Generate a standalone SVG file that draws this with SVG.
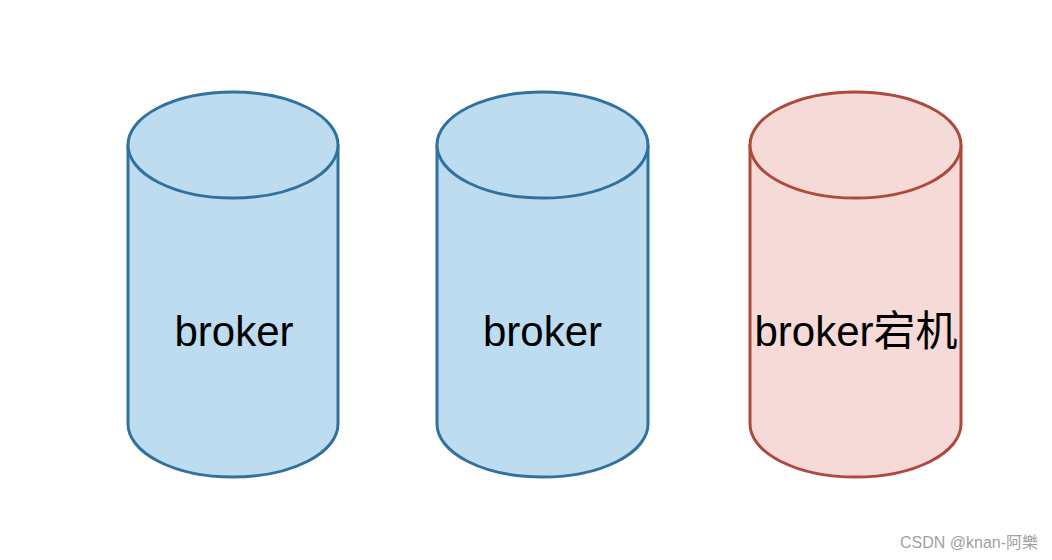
<svg xmlns="http://www.w3.org/2000/svg" width="1052" height="560" viewBox="0 0 1052 560">
<style>
.blue{fill:#bddcef;stroke:#30729d;stroke-width:3}
.red{fill:#f5dad8;stroke:#ae4a3b;stroke-width:3}
.lbl{font-family:"Liberation Sans","Noto Sans CJK SC",sans-serif;font-size:42px;fill:#000;text-anchor:middle}
.wm{font-family:"Liberation Sans","Noto Sans CJK SC",sans-serif;font-size:16px;fill:#a0a0a0}
</style>
<rect width="1052" height="560" fill="#fff"/>
<g id="broker1">
<path class="blue" d="M128,145 A105,53 0 0 1 338,145 L338,424 A105,53 0 0 1 128,424 Z"/>
<path class="blue" d="M128,145 A105,53 0 0 0 338,145" fill="none"/>
<text class="lbl" x="234" y="346">broker</text>
</g>
<g id="broker2">
<path class="blue" d="M437,145 A105.5,53 0 0 1 648,145 L648,424 A105.5,53 0 0 1 437,424 Z"/>
<path class="blue" d="M437,145 A105.5,53 0 0 0 648,145" fill="none"/>
<text class="lbl" x="542.5" y="346">broker</text>
</g>
<g id="broker3">
<path class="red" d="M750,145 A105.5,53 0 0 1 961,145 L961,424 A105.5,53 0 0 1 750,424 Z"/>
<path class="red" d="M750,145 A105.5,53 0 0 0 961,145" fill="none"/>
<text class="lbl" x="856" y="346">broker宕机</text>
</g>
<g id="connectors"/>
<text class="wm" x="900" y="548">CSDN @knan-阿樂</text>
</svg>
